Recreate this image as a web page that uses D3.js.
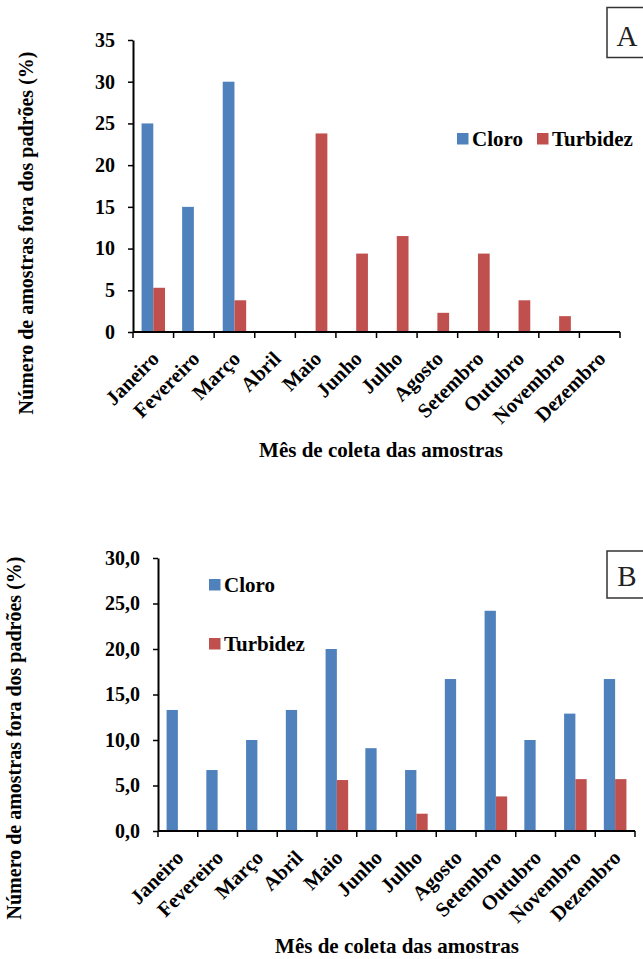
<!DOCTYPE html>
<html>
<head>
<meta charset="utf-8">
<script src="https://cdn.jsdelivr.net/npm/d3@7"></script>
<style>
  html, body { margin: 0; padding: 0; background: #fff; }
  svg { display: block; }
  text { font-family: "Liberation Serif", "Times New Roman", serif; }
</style>
</head>
<body>
<script>
// ---------- DATA ----------
const months = ["Janeiro","Fevereiro","Março","Abril","Maio","Junho","Julho","Agosto","Setembro","Outubro","Novembro","Dezembro"];
const seriesNames = ["Cloro","Turbidez"];
const seriesColors = ["#4F81BD","#C0504D"];

const cloroA    = [25, 15, 30, 0, 0, 0, 0, 0, 0, 0, 0, 0];
const turbidezA = [5.3, 0, 3.8, 0, 23.8, 9.4, 11.5, 2.3, 9.4, 3.8, 1.9, 0];
const ticksA    = [0, 5, 10, 15, 20, 25, 30, 35];

const cloroB    = [13.3, 6.7, 10.0, 13.3, 20.0, 9.1, 6.7, 16.7, 24.2, 10.0, 12.9, 16.7];
const turbidezB = [0, 0, 0, 0, 5.6, 0, 1.9, 0, 3.8, 0, 5.7, 5.7];
const ticksB    = [0, 5, 10, 15, 20, 25, 30];

const yTitle = "Número de amostras fora dos padrões (%)";
const xTitle = "Mês de coleta das amostras";

// ---------- DRAW ----------
const W = 643, H = 959;
const svg = d3.select("body").append("svg").attr("width", W).attr("height", H)
  .style("background", "#fff");

function drawChart(cfg) {
  const g = svg.append("g");
  const x = d3.scaleBand().domain(months).range([cfg.left, cfg.right]).padding(0);
  const x1 = d3.scaleBand().domain(seriesNames).range([0, x.bandwidth()])
    .paddingInner(0).paddingOuter(cfg.outer);
  const y = d3.scaleLinear().domain([0, cfg.max]).range([cfg.bottom, cfg.top]);

  const rows = months.map((m, i) => ({ m, vals: [cfg.s1[i], cfg.s2[i]] }));

  // bars
  rows.forEach(r => {
    r.vals.forEach((v, k) => {
      if (v <= 0) return;
      g.append("rect")
        .attr("x", x(r.m) + x1(seriesNames[k]))
        .attr("y", y(v))
        .attr("width", x1.bandwidth())
        .attr("height", y(0) - y(v))
        .attr("fill", seriesColors[k]);
    });
  });

  // y axis
  const yAxis = d3.axisLeft(y).tickValues(cfg.ticks).tickSize(5).tickSizeOuter(0)
    .tickPadding(13).tickFormat(cfg.fmt);
  const ya = g.append("g").attr("transform", `translate(${cfg.left},0)`).call(yAxis);
  ya.select(".domain").attr("stroke", "#000").attr("stroke-width", 2);
  ya.selectAll(".tick line").attr("stroke", "#000").attr("stroke-width", 1.5);
  ya.selectAll(".tick text").attr("fill", "#000").style("font-size", "20px")
    .style("font-weight", "bold").style("font-family", "Liberation Serif");

  // x axis line + boundary ticks
  g.append("line").attr("x1", cfg.left).attr("x2", cfg.right)
    .attr("y1", y(0)).attr("y2", y(0)).attr("stroke", "#000").attr("stroke-width", 2);
  const edges = months.map(m => x(m)).concat([cfg.right]);
  g.selectAll(".xt").data(edges).enter().append("line")
    .attr("x1", d => d).attr("x2", d => d)
    .attr("y1", y(0)).attr("y2", y(0) + 6)
    .attr("stroke", "#000").attr("stroke-width", 1.5);

  // x tick labels
  g.selectAll(".xl").data(months).enter().append("text")
    .attr("transform", d => `translate(${x(d) + x.bandwidth() / 2 + 7},${y(0) + 28}) rotate(-45)`)
    .attr("text-anchor", "end")
    .style("font-size", "20.5px").style("font-weight", "bold")
    .text(d => d);

  // axis titles
  g.append("text")
    .attr("transform", `translate(${cfg.ytx},${cfg.yty}) rotate(-90)`)
    .attr("text-anchor", "middle")
    .style("font-size", "20px").style("font-weight", "bold")
    .text(yTitle);
  g.append("text")
    .attr("x", cfg.xtx).attr("y", cfg.xty)
    .attr("text-anchor", "middle")
    .style("font-size", "21px").style("font-weight", "bold")
    .text(xTitle);

  // legend
  cfg.legend.forEach((p, k) => {
    g.append("rect").attr("x", p[0]).attr("y", p[1]).attr("width", 11.5).attr("height", 11.5)
      .attr("fill", seriesColors[k]);
    g.append("text").attr("x", p[0] + 15).attr("y", p[1] + 12.5)
      .style("font-size", "21px").style("font-weight", "bold")
      .text(seriesNames[k]);
  });

  // panel letter box
  g.append("rect").attr("x", 607).attr("y", cfg.boxY).attr("width", 60).attr("height", cfg.boxH)
    .attr("fill", "#fff").attr("stroke", "#333").attr("stroke-width", 1.5);
  g.append("text").attr("x", 627).attr("y", cfg.boxY + cfg.boxH - 12)
    .attr("text-anchor", "middle")
    .style("font-size", "29px").attr("fill", "#222")
    .text(cfg.letter);
}

drawChart({
  s1: cloroA, s2: turbidezA, ticks: ticksA, max: 35, fmt: d3.format("d"),
  left: 133, right: 620, top: 40, bottom: 332, outer: 0.73,
  ytx: 33, yty: 233, xtx: 381, xty: 457,
  legend: [[457, 133], [537, 133]],
  boxY: 7.5, boxH: 50, letter: "A"
});

drawChart({
  s1: cloroB, s2: turbidezB, ticks: ticksB, max: 30, fmt: d => d3.format(".1f")(d).replace(".", ","),
  left: 158, right: 635, top: 558, bottom: 831, outer: 0.76,
  ytx: 21, yty: 738, xtx: 397, xty: 953,
  legend: [[209, 579], [209, 638]],
  boxY: 551, boxH: 47, letter: "B"
});
</script>
</body>
</html>
